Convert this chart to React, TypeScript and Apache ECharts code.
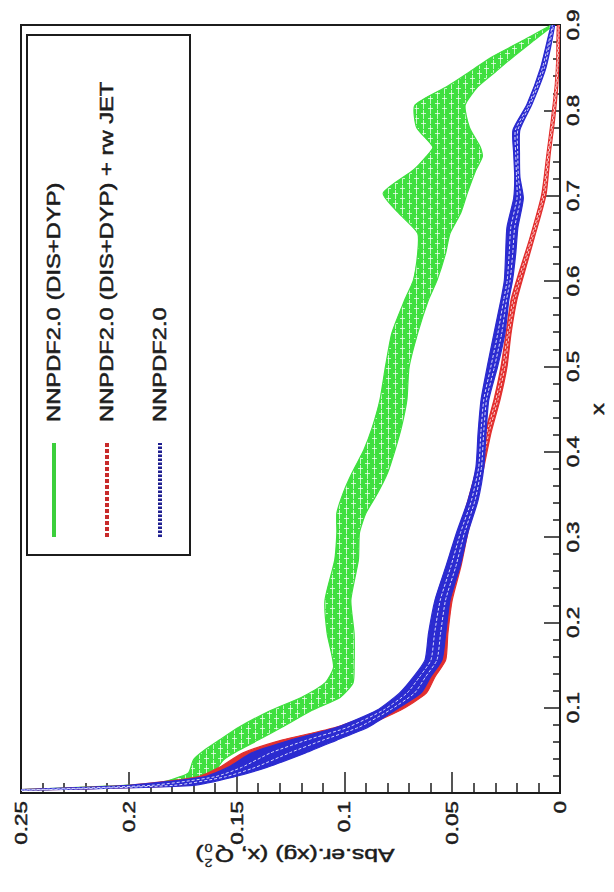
import React, { useEffect, useRef } from "react";
import * as echarts from "echarts";

// Momentum fraction x (vertical axis after the 90° turn) and its tick labels
const xTickValues = [0.1, 0.2, 0.3, 0.4, 0.5, 0.6, 0.7, 0.8, 0.9];
const xTickLabels = ["0.1", "0.2", "0.3", "0.4", "0.5", "0.6", "0.7", "0.8", "0.9"];

// Absolute error (horizontal axis, growing to the left) and its tick labels
const errTickValues = [0.25, 0.2, 0.15, 0.1, 0.05, 0];
const errTickLabels = ["0.25", "0.2", "0.15", "0.1", "0.05", "0"];

const seriesNames = ["NNPDF2.0 (DIS+DYP)", "NNPDF2.0 (DIS+DYP) + rw JET", "NNPDF2.0"];

// NNPDF2.0 (DIS+DYP): band edges
const greenX = [0.003, 0.008, 0.012, 0.023, 0.039, 0.05, 0.062, 0.077, 0.097, 0.112, 0.129, 0.148, 0.187, 0.226, 0.273, 0.305, 0.328, 0.352, 0.375, 0.402, 0.429, 0.461, 0.499, 0.539, 0.578, 0.601, 0.633, 0.656, 0.68, 0.703, 0.73, 0.746, 0.757, 0.78, 0.806, 0.828, 0.845, 0.862, 0.882, 0.9];
const greenHi = [0.26, 0.21, 0.186, 0.1725, 0.17, 0.165, 0.158, 0.149, 0.134, 0.12, 0.109, 0.105, 0.108, 0.109, 0.1045, 0.1035, 0.1035, 0.1005, 0.0965, 0.091, 0.087, 0.0835, 0.081, 0.078, 0.072, 0.068, 0.066, 0.066, 0.075, 0.082, 0.068, 0.062, 0.059, 0.0665, 0.0673, 0.0524, 0.042, 0.032, 0.017, 0.004];
const greenLo = [0.25, 0.19, 0.168, 0.161, 0.156, 0.149, 0.14, 0.129, 0.115, 0.102, 0.096, 0.0955, 0.0955, 0.097, 0.0935, 0.093, 0.09, 0.0845, 0.08, 0.0765, 0.0735, 0.071, 0.07, 0.066, 0.061, 0.057, 0.053, 0.051, 0.046, 0.043, 0.039, 0.036, 0.037, 0.042, 0.044, 0.038, 0.03, 0.022, 0.012, 0.003];

// NNPDF2.0 (DIS+DYP) + rw JET: band edges
const redX = [0.003, 0.009, 0.019, 0.03, 0.047, 0.062, 0.077, 0.097, 0.117, 0.136, 0.156, 0.187, 0.226, 0.265, 0.305, 0.343, 0.382, 0.422, 0.461, 0.499, 0.539, 0.578, 0.61, 0.65, 0.701, 0.75, 0.789, 0.83, 0.86, 0.9];
const redHi = [0.26, 0.2, 0.168, 0.158, 0.147, 0.129, 0.104, 0.083, 0.071, 0.0645, 0.06, 0.059, 0.056, 0.051, 0.047, 0.0427, 0.0385, 0.0348, 0.0306, 0.0274, 0.025, 0.0227, 0.019, 0.014, 0.0085, 0.006, 0.004, 0.0022, 0.0015, 0.0012];
const redLo = [0.25, 0.175, 0.155, 0.143, 0.128, 0.111, 0.092, 0.074, 0.062, 0.058, 0.053, 0.052, 0.05, 0.046, 0.0427, 0.039, 0.0353, 0.032, 0.0278, 0.0246, 0.0227, 0.02, 0.0165, 0.012, 0.0065, 0.0045, 0.0025, 0.001, 0.0005, 0];

// NNPDF2.0: band edges
const blueX = [0.003, 0.009, 0.019, 0.03, 0.047, 0.062, 0.077, 0.097, 0.117, 0.136, 0.156, 0.187, 0.226, 0.265, 0.305, 0.343, 0.382, 0.422, 0.461, 0.499, 0.539, 0.578, 0.601, 0.633, 0.663, 0.697, 0.722, 0.75, 0.777, 0.807, 0.85, 0.9];
const blueHi = [0.26, 0.2, 0.165, 0.154, 0.143, 0.125, 0.1035, 0.085, 0.0745, 0.068, 0.0626, 0.061, 0.058, 0.053, 0.048, 0.0427, 0.039, 0.038, 0.0366, 0.0338, 0.0306, 0.0274, 0.0258, 0.0252, 0.0246, 0.0215, 0.021, 0.0215, 0.0218, 0.0153, 0.009, 0.004];
const blueLo = [0.25, 0.17, 0.151, 0.136, 0.118, 0.1035, 0.089, 0.0765, 0.0645, 0.06, 0.0547, 0.053, 0.051, 0.0464, 0.0427, 0.038, 0.0353, 0.0343, 0.033, 0.029, 0.0255, 0.0237, 0.022, 0.0205, 0.0195, 0.017, 0.0186, 0.0188, 0.0186, 0.013, 0.0065, 0.0025];

const FONT = "'Liberation Sans', Arial, sans-serif";
const INK = "#1c1c1c";
const STRETCH = 1.32;

// Ladder-like hatch tile used for the green band: vertical rails with short rungs
function makeHatchTile(): HTMLCanvasElement {
  const c = document.createElement("canvas");
  c.width = 14;
  c.height = 10;
  const g = c.getContext("2d")!;
  g.fillStyle = "#3fdf3f";
  g.fillRect(0, 0, 14, 10);
  g.fillStyle = "rgba(255,255,255,0.72)";
  g.fillRect(3, 0, 1, 9);
  g.fillRect(10, 0, 1, 4);
  g.fillRect(10, 5, 1, 5);
  g.fillRect(1, 3, 5, 1);
  g.fillRect(8, 8, 5, 1);
  return c;
}

function bandRenderer(
  xs: number[],
  hi: number[],
  lo: number[],
  fill: any,
  edge: string,
  hatch: string,
  fractions: number[],
  dash: number[]
) {
  return (params: any, api: any) => {
    if (params.dataIndex !== 0) return null;
    const upper = xs.map((x, i) => api.coord([hi[i], x]));
    const lower = xs.map((x, i) => api.coord([lo[i], x]));
    const outline = upper.concat(lower.slice().reverse());
    const children: any[] = [
      {
        type: "polygon",
        shape: { points: outline, smooth: 0.2 },
        style: { fill, stroke: edge, lineWidth: 1.2 },
      },
    ];
    fractions.forEach((f) => {
      const pts = xs.map((x, i) => api.coord([lo[i] + f * (hi[i] - lo[i]), x]));
      children.push({
        type: "polyline",
        shape: { points: pts, smooth: 0.2 },
        style: { fill: "none", stroke: hatch, lineWidth: 1, lineDash: dash },
      });
    });
    return { type: "group", children };
  };
}

function bandSeries(name: string, xs: number[], hi: number[], lo: number[], fill: any, edge: string, hatch: string, fractions: number[], dash: number[]) {
  return {
    type: "custom",
    name,
    clip: true,
    coordinateSystem: "cartesian2d",
    data: xs.map((x, i) => [hi[i], x]),
    encode: { x: 0, y: 1 },
    renderItem: bandRenderer(xs, hi, lo, fill, edge, hatch, fractions, dash),
    silent: true,
  };
}

const axisLine = { show: true, lineStyle: { color: INK, width: 2 } };

function label(text: string, x: number, y: number, size: number, align: string, vAlign: string, rotation = Math.PI / 2) {
  return {
    type: "text",
    x,
    y,
    rotation,
    scaleX: STRETCH,
    style: {
      text,
      fontSize: size,
      fontFamily: FONT,
      fill: INK,
      stroke: INK,
      lineWidth: 0.5,
      textAlign: align,
      textVerticalAlign: vAlign,
    },
  };
}

export default function App() {
  const ref = useRef<HTMLDivElement>(null);

  useEffect(() => {
    document.body.style.margin = "0";
    const chart = echarts.init(ref.current!, null, { renderer: "svg" });
    const greenFill = { image: makeHatchTile(), repeat: "repeat" };
    chart.setOption({
      animation: false,
      backgroundColor: "#ffffff",
      grid: {
        left: 21,
        right: 54,
        top: 25,
        bottom: 99,
        show: true,
        borderColor: INK,
        borderWidth: 2,
        backgroundColor: "transparent",
      },
      xAxis: {
        type: "value",
        inverse: true,
        min: 0,
        max: 0.25,
        interval: 0.05,
        position: "bottom",
        axisLine,
        axisTick: { show: true, inside: true, length: 21, lineStyle: { color: INK, width: 1.5 } },
        minorTick: { show: true, splitNumber: 5, length: 10, lineStyle: { color: INK, width: 1.5 } },
        axisLabel: { show: false },
        splitLine: { show: false },
      },
      yAxis: {
        type: "value",
        min: 0,
        max: 0.9,
        interval: 0.1,
        position: "right",
        axisLine,
        axisTick: { show: true, inside: true, length: 16, lineStyle: { color: INK, width: 1.5 } },
        minorTick: { show: true, splitNumber: 5, length: 7, lineStyle: { color: INK, width: 1.5 } },
        axisLabel: { show: false },
        splitLine: { show: false },
      },
      series: [
        bandSeries(seriesNames[0], greenX, greenHi, greenLo, greenFill, "#3fdf3f", "rgba(255,255,255,0.5)", [], [6, 2]),
        bandSeries(seriesNames[1], redX, redHi, redLo, "#e2302f", "#e2302f", "rgba(255,235,235,0.85)", [0.35, 0.7], [3, 2]),
        bandSeries(seriesNames[2], blueX, blueHi, blueLo, "#2b2bd0", "#2b2bd0", "rgba(235,235,255,0.9)", [0.3, 0.65], [3, 2]),
      ],
    });

    const toPx = (v: number, x: number) => chart.convertToPixel({ gridIndex: 0 }, [v, x]) as number[];
    const graphics: any[] = [];

    // x tick labels, turned a quarter turn, to the right of the frame
    xTickValues.forEach((t, i) => {
      const p = toPx(0, t);
      graphics.push(label(xTickLabels[i], p[0] + 5, p[1], 17, "center", "top"));
    });

    // error tick labels under the frame
    errTickValues.forEach((v, i) => {
      const p = toPx(v, 0);
      graphics.push(label(errTickLabels[i], p[0], p[1] + 8, 17, "right", "middle"));
    });

    // axis titles
    const mid = toPx(0, 0.45);
    graphics.push(label("x", mid[0] + 38, mid[1], 18, "center", "middle"));

    const titleStyle = { fontFamily: FONT, fill: INK, stroke: INK, lineWidth: 0.5, textVerticalAlign: "middle", textAlign: "left" };
    const bottomMid = toPx(0.125, 0);
    graphics.push({
      type: "group",
      x: bottomMid[0],
      y: bottomMid[1] + 62,
      rotation: Math.PI,
      scaleX: 1.3,
      children: [
        { type: "text", x: -80, y: 0, style: { ...titleStyle, text: "Abs.er.(xg) (x, Q", fontSize: 19 } },
        { type: "text", x: 60, y: 7, style: { ...titleStyle, text: "0", fontSize: 11, lineWidth: 0.3 } },
        { type: "text", x: 60, y: -8, style: { ...titleStyle, text: "2", fontSize: 11, lineWidth: 0.3 } },
        { type: "text", x: 67, y: 0, style: { ...titleStyle, text: ")", fontSize: 19 } },
      ],
    });

    // legend box
    graphics.push({
      type: "rect",
      shape: { x: 27, y: 35, width: 163, height: 520 },
      style: { fill: "#ffffff", stroke: INK, lineWidth: 2 },
    });
    const legendCols = [54, 107, 160];
    const legendStyles = [
      { stroke: "#3ccf3c", lineDash: null as number[] | null },
      { stroke: "#c82a2a", lineDash: [4, 2] },
      { stroke: "#1d1d8f", lineDash: [2.5, 1.5] },
    ];
    seriesNames.forEach((name, i) => {
      const cx = legendCols[i];
      graphics.push({
        type: "line",
        shape: { x1: cx, y1: 537, x2: cx, y2: 443 },
        style: { stroke: legendStyles[i].stroke, lineWidth: 4, lineDash: legendStyles[i].lineDash },
      });
      graphics.push(label(name, cx, 422, 18, "left", "middle"));
    });

    chart.setOption({ graphic: graphics });
    return () => chart.dispose();
  }, []);

  return <div ref={ref} style={{ width: 614, height: 892 }} />;
}
